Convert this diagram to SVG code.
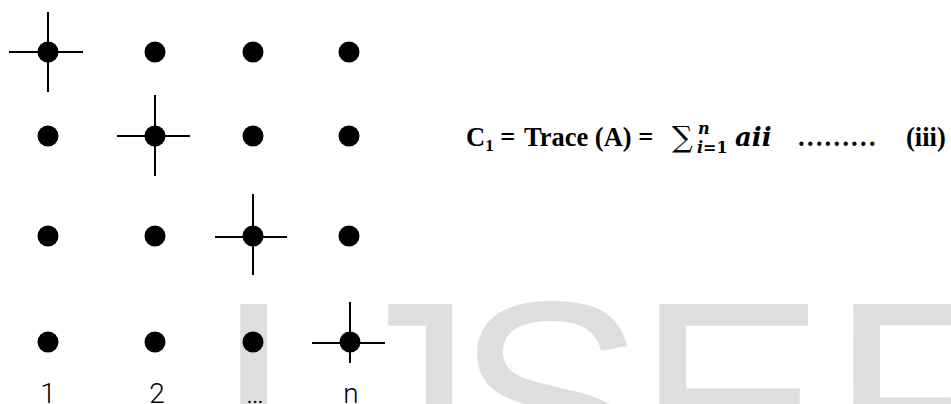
<svg xmlns="http://www.w3.org/2000/svg" width="951" height="404" viewBox="0 0 951 404">
<style>
.wm{font-family:"Liberation Sans",Arial,sans-serif;font-size:285px;fill:#dedede}
.dot{fill:#000}
.cr{stroke:#000;stroke-width:2;fill:none}
.lbl{font-family:Roboto,"Open Sans",sans-serif;font-weight:300;font-size:28px;fill:#000;text-anchor:middle}
.eq{font-family:"Liberation Serif","Times New Roman",serif;font-weight:bold;font-size:26.5px;fill:#000}
.m{font-family:"DejaVu Serif",serif;font-weight:bold;font-style:italic;fill:#000}
</style>
<rect width="951" height="404" fill="#fff"/>
<g id="watermark">
<text class="wm" x="214" y="500">I</text>
<text class="wm" x="331" y="500">J</text>
<text class="wm" x="455" y="500">S</text>
<text class="wm" x="636" y="500">E</text>
<text class="wm" x="830" y="500">R</text>
</g>
<g id="connectors"></g>
<g id="n11"><line class="cr" x1="9" y1="52" x2="83" y2="52"/><line class="cr" x1="48" y1="12" x2="48" y2="92"/><circle class="dot" cx="48" cy="52" r="10.5"/></g>
<g id="n12"><circle class="dot" cx="155" cy="52" r="10.5"/></g>
<g id="n13"><circle class="dot" cx="253" cy="52" r="10.5"/></g>
<g id="n14"><circle class="dot" cx="349" cy="52" r="10.5"/></g>
<g id="n21"><circle class="dot" cx="48" cy="136" r="10.5"/></g>
<g id="n22"><line class="cr" x1="117" y1="136" x2="190" y2="136"/><line class="cr" x1="155" y1="95" x2="155" y2="176"/><circle class="dot" cx="155" cy="136" r="10.5"/></g>
<g id="n23"><circle class="dot" cx="253" cy="136" r="10.5"/></g>
<g id="n24"><circle class="dot" cx="349" cy="136" r="10.5"/></g>
<g id="n31"><circle class="dot" cx="48" cy="236" r="10.5"/></g>
<g id="n32"><circle class="dot" cx="155" cy="236" r="10.5"/></g>
<g id="n33"><line class="cr" x1="215" y1="237" x2="287" y2="237"/><line class="cr" x1="253" y1="194" x2="253" y2="275"/><circle class="dot" cx="253" cy="236" r="10.5"/></g>
<g id="n34"><circle class="dot" cx="349" cy="236" r="10.5"/></g>
<g id="n41"><circle class="dot" cx="48" cy="342" r="10.5"/></g>
<g id="n42"><circle class="dot" cx="155" cy="342" r="10.5"/></g>
<g id="n43"><circle class="dot" cx="253" cy="342" r="10.5"/></g>
<g id="n44"><line class="cr" x1="312" y1="343" x2="385" y2="343"/><line class="cr" x1="350" y1="302" x2="350" y2="363"/><circle class="dot" cx="350" cy="342" r="10.5"/></g>
<g id="labels">
<text class="lbl" x="48" y="403">1</text>
<text class="lbl" x="157" y="403">2</text>
<text class="lbl" x="255" y="403">…</text>
<text class="lbl" x="351" y="403">n</text>
</g>
<g id="formula">
<text class="eq" x="466" y="146">C<tspan font-size="17" dy="5">1</tspan><tspan dy="-5"> = </tspan></text>
<text class="eq" x="524" y="146">Trace (A) = </text>
<text x="672" y="147" font-family="'DejaVu Serif',serif" font-size="29" fill="#000">∑</text>
<text class="m" x="698" y="134" font-size="16">n</text>
<text class="m" x="697" y="153" font-size="16">i<tspan font-style="normal">=1</tspan></text>
<text class="m" x="735" y="146" font-size="26">aii</text>
<text class="eq" x="797" y="146">………</text>
<text class="eq" x="906" y="146">(iii)</text>
</g>
</svg>
